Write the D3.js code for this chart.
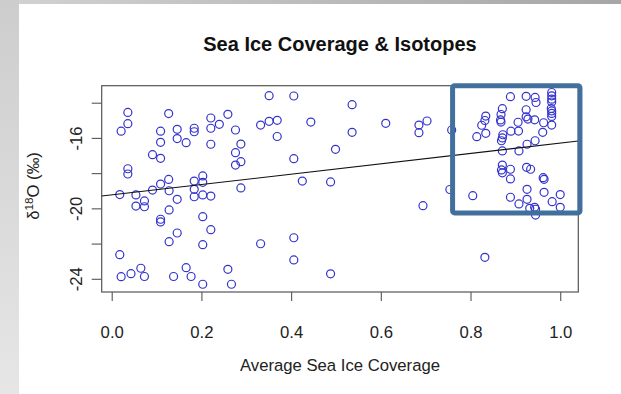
<!DOCTYPE html>
<html><head><meta charset="utf-8">
<script src="https://cdn.jsdelivr.net/npm/d3@7"></script>
<style>
body{margin:0;background:#fff;}
svg{display:block;font-family:"Liberation Sans",Arial,sans-serif;}
</style>
</head><body>
<svg id="c" width="621" height="394"></svg>
<script>
const title = "Sea Ice Coverage & Isotopes";
const xTitle = "Average Sea Ice Coverage";
const coverage = [
0.036,0.036,0.021,0.127,0.109,0.109,0.091,0.109,0.146,0.146,
0.166,0.184,0.184,0.221,0.221,0.240,0.259,0.276,0.221,0.288,
0.276,0.288,0.276,0.351,0.332,0.351,0.369,0.369,0.036,0.036,
0.109,0.127,0.184,0.203,0.203,0.091,0.128,0.184,0.288,0.018,
0.054,0.184,0.203,0.221,0.073,0.054,0.073,0.146,0.128,0.203,
0.109,0.109,0.221,0.146,0.128,0.203,0.332,0.018,0.065,0.166,
0.259,0.021,0.043,0.073,0.138,0.177,0.203,0.267,0.406,0.536,
0.444,0.536,0.611,0.685,0.685,0.703,0.499,0.406,0.425,0.488,
0.694,0.406,0.406,0.488,0.754,0.758,0.814,0.825,0.834,0.834,
0.832,0.805,0.832,0.889,0.924,0.944,0.946,0.981,0.981,0.981,
0.981,0.980,0.981,0.981,0.981,0.871,0.868,0.867,0.868,0.924,
0.924,0.928,0.943,0.906,0.963,0.981,0.961,0.907,0.890,0.872,
0.871,0.869,0.944,0.926,0.871,0.908,0.871,0.869,0.871,0.889,
0.889,0.925,0.934,0.962,0.964,0.889,0.908,0.926,0.926,0.964,
0.982,1.000,1.000,0.932,0.943,0.945,0.945];
const d18O = [
-14.55,-15.19,-15.62,-14.62,-15.62,-16.25,-16.95,-17.16,-15.51,-16.04,
-16.27,-15.45,-15.65,-14.87,-15.45,-15.23,-14.66,-15.55,-16.36,-16.35,
-16.84,-17.35,-17.54,-13.60,-15.27,-15.06,-15.00,-15.92,-17.75,-18.05,
-18.62,-18.36,-18.45,-18.16,-18.52,-18.96,-19.00,-18.92,-18.84,-19.22,
-19.24,-19.34,-19.24,-19.30,-19.58,-19.87,-19.91,-19.49,-20.09,-20.47,
-20.62,-20.77,-21.21,-21.40,-21.89,-22.06,-22.01,-22.63,-23.40,-23.37,
-23.46,-23.88,-23.71,-23.87,-23.87,-23.87,-24.31,-24.31,-13.62,-14.11,
-15.10,-15.68,-15.17,-15.27,-15.70,-15.04,-16.65,-17.18,-18.45,-18.50,
-19.85,-21.67,-22.93,-23.72,-18.93,-15.55,-15.93,-15.28,-15.74,-14.76,
-15.01,-19.28,-22.78,-13.66,-13.64,-13.70,-13.99,-13.42,-13.61,-13.80,
-13.96,-14.33,-14.47,-14.61,-14.78,-14.34,-14.67,-14.98,-15.10,-14.40,
-14.80,-14.93,-14.97,-15.11,-15.14,-15.27,-15.68,-15.61,-15.62,-15.82,
-16.00,-16.16,-16.16,-16.36,-16.74,-16.74,-17.54,-17.82,-17.98,-17.78,
-18.33,-17.67,-17.78,-18.26,-18.35,-19.37,-19.75,-19.49,-18.92,-19.09,
-19.62,-19.22,-19.94,-20.00,-19.94,-20.05,-20.38];
const xTicks = [0, 0.2, 0.4, 0.6, 0.8, 1.0];
const yTicks = [-14, -16, -18, -20, -22, -24];
const yLabels = [-16, -20, -24];
const fitIntercept = -19.235;
const fitSlope = 2.94;
const highlightX = [0.76, 1.044];
const highlightY = [-13.04, -20.26];

const svg = d3.select("#c");
const W = 621, H = 394;

// slide background
const defs = svg.append("defs");
const gl = defs.append("linearGradient").attr("id","gl").attr("x1",0).attr("y1",0).attr("x2",0).attr("y2",1);
gl.append("stop").attr("offset","0%").attr("stop-color","#cdcdcd");
gl.append("stop").attr("offset","100%").attr("stop-color","#e6e6e6");
const gt = defs.append("linearGradient").attr("id","gt").attr("x1",0).attr("y1",0).attr("x2",1).attr("y2",0);
gt.append("stop").attr("offset","0%").attr("stop-color","#d2d2d2");
gt.append("stop").attr("offset","100%").attr("stop-color","#a6a6a6");
svg.append("rect").attr("width",W).attr("height",H).attr("fill","#fff");
svg.append("rect").attr("x",0).attr("y",0).attr("width",W).attr("height",4).attr("fill","url(#gt)");
svg.append("rect").attr("x",0).attr("y",0).attr("width",19).attr("height",H).attr("fill","url(#gl)");

const pL = 101.7, pR = 578.3, pT = 85.7, pB = 292;
const x = d3.scaleLinear().domain([-0.0223, 1.0403]).range([pL, pR]);
const y = d3.scaleLinear().domain([-24.75, -13.035]).range([pB, pT]);

const fs = 16.7;

// title
svg.append("text").attr("x",(pL+pR)/2).attr("y",51.2)
  .attr("text-anchor","middle").attr("font-weight","bold").attr("font-size",20)
  .attr("fill","#111").text(title);

// x axis
const xa = svg.append("g").attr("transform",`translate(0,${pB})`)
  .call(d3.axisBottom(x).tickValues(xTicks).tickFormat(d3.format(".1f"))
    .tickSize(9).tickPadding(25).tickSizeOuter(0));
xa.select(".domain").remove();
xa.selectAll("line").attr("stroke","#555").attr("stroke-width",1.1);
xa.selectAll("text").attr("font-size",fs).attr("fill","#222")
  .attr("font-family","Liberation Sans, Arial, sans-serif");

// y axis
const ya = svg.append("g").attr("transform",`translate(${pL},0)`)
  .call(d3.axisLeft(y).tickValues(yTicks)
    .tickFormat(d => yLabels.includes(d) ? String(d) : "")
    .tickSize(10).tickSizeOuter(0));
ya.select(".domain").remove();
ya.selectAll("line").attr("stroke","#555").attr("stroke-width",1.1);
ya.selectAll("text").attr("x",null).attr("dy",null)
  .attr("text-anchor","middle").attr("transform","translate(-20,0) rotate(-90)")
  .attr("font-size",fs).attr("fill","#222")
  .attr("font-family","Liberation Sans, Arial, sans-serif");

// axis titles
svg.append("text").attr("x",(pL+pR)/2).attr("y",371)
  .attr("text-anchor","middle").attr("font-size",fs).attr("fill","#222").text(xTitle);
const yl = svg.append("text").attr("transform","translate(39,186) rotate(-90)")
  .attr("text-anchor","middle").attr("font-size",fs).attr("fill","#222");
yl.append("tspan").text("\u03B4");
yl.append("tspan").attr("dy",-6.5).attr("font-size",fs*0.7).text("18");
yl.append("tspan").attr("dy",6.5).text("O (\u2030)");

// box
svg.append("rect").attr("x",pL).attr("y",pT).attr("width",pR-pL).attr("height",pB-pT)
  .attr("fill","none").attr("stroke","#555").attr("stroke-width",1.2);

// points
svg.append("g").selectAll("circle").data(coverage.map((c,i)=>[c,d18O[i]])).join("circle")
  .attr("cx",d=>x(d[0])).attr("cy",d=>y(d[1])).attr("r",4)
  .attr("fill","none").attr("stroke","#3434cc").attr("stroke-width",1.2);

// regression line
const xd = x.domain();
svg.append("line")
  .attr("x1",x(xd[0])).attr("y1",y(fitIntercept+fitSlope*xd[0]))
  .attr("x2",x(xd[1])).attr("y2",y(fitIntercept+fitSlope*xd[1]))
  .attr("stroke","#111").attr("stroke-width",1.1);

// highlight box
svg.append("rect")
  .attr("x",x(highlightX[0])).attr("y",y(highlightY[0]))
  .attr("width",x(highlightX[1])-x(highlightX[0]))
  .attr("height",y(highlightY[1])-y(highlightY[0]))
  .attr("rx",2).attr("fill","none").attr("stroke","#41709f").attr("stroke-width",5);
</script>
</body></html>
